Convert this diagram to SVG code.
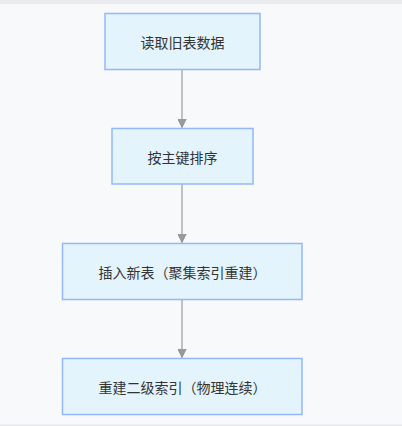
<svg xmlns="http://www.w3.org/2000/svg" width="402" height="426" viewBox="0 0 402 426">
<style>
.node rect{fill:#e3f4fd;stroke:#93b8f5;stroke-width:1.5}
.node text{font-family:"Noto Sans CJK SC","Noto Sans",sans-serif;font-size:14px;fill:#333;text-anchor:middle;dominant-baseline:central}
.edge{stroke:#9a9a9a;stroke-width:1.2;fill:none}
</style>
<defs>
<marker id="arr" viewBox="0 0 10 10" refX="10" refY="5" markerWidth="9" markerHeight="9" markerUnits="userSpaceOnUse" orient="auto">
<path d="M0,0 L10,5 L0,10 z" fill="#9a9a9a" stroke="#8a8a8a" stroke-width="0.8"/>
</marker>
</defs>
<rect x="0" y="0" width="402" height="426" fill="#f8f9fb"/>
<rect x="0" y="0" width="402" height="4" fill="#e9ebef"/>
<rect x="0" y="424.5" width="402" height="1.5" fill="#e6e7ea"/>
<g id="connectors">
<line class="edge" x1="182" y1="70" x2="182" y2="127.5" marker-end="url(#arr)"/>
<line class="edge" x1="182" y1="184" x2="182" y2="242.5" marker-end="url(#arr)"/>
<line class="edge" x1="182" y1="299.5" x2="182" y2="357.5" marker-end="url(#arr)"/>
</g>
<g id="n1" class="node"><rect x="105" y="13.5" width="155" height="56"/><text x="182.5" y="41.5">读取旧表数据</text></g>
<g id="n2" class="node"><rect x="112" y="128.5" width="141" height="55.5"/><text x="182.5" y="156.5">按主键排序</text></g>
<g id="n3" class="node"><rect x="62.5" y="243.5" width="239.5" height="56"/><text x="182.5" y="271.5">插入新表（聚集索引重建）</text></g>
<g id="n4" class="node"><rect x="62.5" y="358.5" width="239.5" height="56"/><text x="182.5" y="386.5">重建二级索引（物理连续）</text></g>
</svg>
